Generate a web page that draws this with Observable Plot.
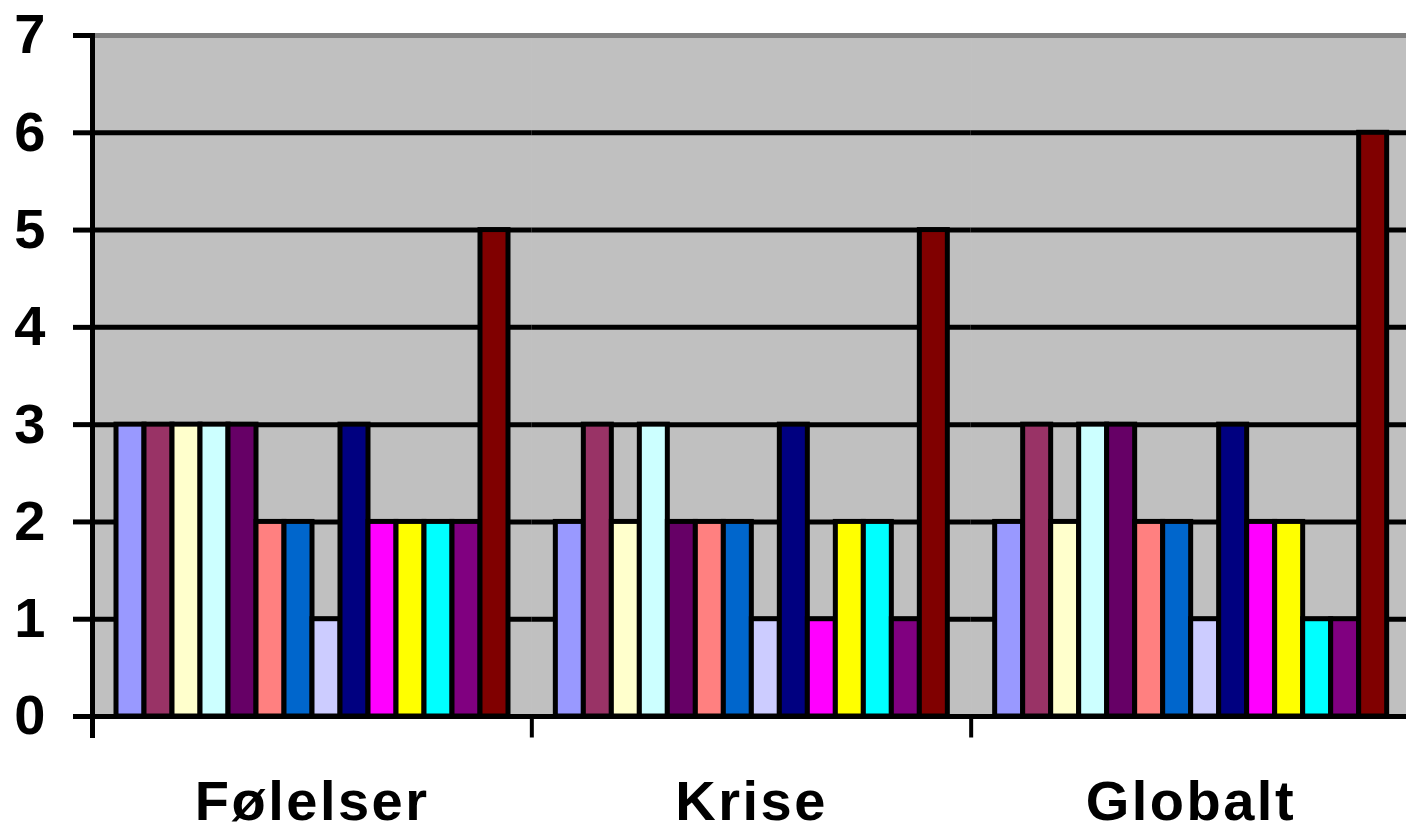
<!DOCTYPE html>
<html>
<head>
<meta charset="utf-8">
<script src="https://cdn.jsdelivr.net/npm/d3@7"></script>
<script src="https://cdn.jsdelivr.net/npm/@observablehq/plot@0.6"></script>
<style>
  html, body { margin: 0; padding: 0; background: #fff; overflow: hidden; }
  #chart svg { display: block; }
</style>
</head>
<body>
<div id="chart"></div>
<script>
// Categories along the bottom
const categories = ["Følelser", "Krise", "Globalt"];

// Fourteen series, one bar each per category
const seriesNames = ["S1", "S2", "S3", "S4", "S5", "S6", "S7", "S8", "S9", "S10", "S11", "S12", "S13", "S14"];

// Values per category, in series order
const valuesFolelser = [3, 3, 3, 3, 3, 2, 2, 1, 3, 2, 2, 2, 2, 5];
const valuesKrise    = [2, 3, 2, 3, 2, 2, 2, 1, 3, 1, 2, 2, 1, 5];
const valuesGlobalt  = [2, 3, 2, 3, 3, 2, 2, 1, 3, 2, 2, 1, 1, 6];

// Series fill colours (classic spreadsheet palette)
const seriesColors = ["#9999FF", "#993366", "#FFFFCC", "#CCFFFF", "#660066", "#FF8080", "#0066CC",
                      "#CCCCFF", "#000080", "#FF00FF", "#FFFF00", "#00FFFF", "#800080", "#800000"];

// Y-axis tick values
const yTicks = [0, 1, 2, 3, 4, 5, 6, 7];

const valuesByCategory = [valuesFolelser, valuesKrise, valuesGlobalt];
const rows = categories.flatMap((c, i) =>
  seriesNames.map((s, j) => ({category: c, series: s, value: valuesByCategory[i][j]}))
);

const width = 1406, height = 826;
const marginTop = 35, marginBottom = 110, marginLeft = 92, marginRight = -4;
const plotH = height - marginTop - marginBottom;
const tickLen = 19;

const chart = Plot.plot({
  width, height, marginTop, marginBottom, marginLeft, marginRight,
  style: {fontFamily: "'Liberation Sans', Arial, sans-serif", color: "#000", background: "#fff", overflow: "hidden"},
  fx: {domain: categories, padding: 0, label: null, round: false},
  x: {domain: seriesNames, paddingInner: 0, paddingOuter: 0.78, axis: null},
  y: {domain: [0, 7], label: null},
  color: {domain: seriesNames, range: seriesColors},
  marks: [
    // grey plot area
    Plot.frame({fill: "#c0c0c0", stroke: "#c0c0c0", strokeWidth: 1}),
    // horizontal grid lines
    Plot.gridY([0, 1, 2, 3, 4, 5, 6], {stroke: "#000", strokeOpacity: 1, strokeWidth: 5}),
    // darker top border of the plot area
    Plot.frame({anchor: "top", stroke: "#808080", strokeWidth: 5}),
    // bars
    Plot.barY(rows, {fx: "category", x: "series", y: "value", fill: "series",
                     stroke: "#000", strokeWidth: 5, inset: 0}),
    // baseline
    Plot.ruleY([0], {stroke: "#000", strokeWidth: 5}),
    // vertical value axis line
    Plot.frame({anchor: "left", facetAnchor: "left", stroke: "#000", strokeWidth: 5, insetBottom: -tickLen}),
    // category boundary ticks below the baseline
    Plot.frame({anchor: "left", stroke: "#000", strokeWidth: 4, insetTop: plotH, insetBottom: -tickLen}),
    Plot.axisY(yTicks, {tickSize: tickLen, tickPadding: 28, strokeWidth: 5, fontSize: 56, fontWeight: "bold",
                        tickFormat: "d", fill: "#000", stroke: "#000", label: null}),
    Plot.axisFx({anchor: "bottom", tickSize: 0, tickPadding: 64, fontSize: 56, fontWeight: "bold",
                 fill: "#000", label: null})
  ]
});

chart.querySelectorAll("text").forEach(t => {
  if (categories.includes(t.textContent)) t.style.letterSpacing = "2.5px";
});

document.getElementById("chart").appendChild(chart);
</script>
</body>
</html>
